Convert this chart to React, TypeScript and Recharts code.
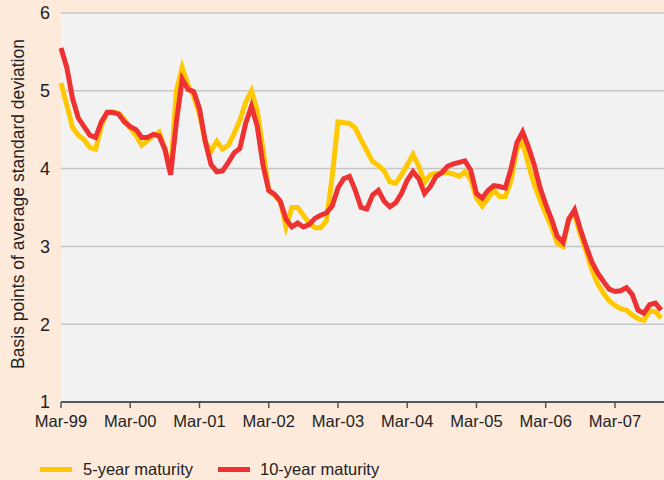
import React from 'react';
import { LineChart, Line, XAxis, YAxis, CartesianGrid } from 'recharts';

// months since Mar-99, one point per month
const fiveYear = [
  5.1, 4.82, 4.53, 4.43, 4.37, 4.27, 4.25, 4.55, 4.73, 4.73, 4.71, 4.63,
  4.52, 4.43, 4.3, 4.36, 4.42, 4.47, 4.26, 3.96, 5.0, 5.3, 5.08, 4.93,
  4.7, 4.35, 4.22, 4.35, 4.25, 4.3, 4.45, 4.62, 4.85, 5.0, 4.75, 4.25,
  3.72, 3.66, 3.58, 3.25, 3.5, 3.5, 3.4, 3.3, 3.24, 3.24, 3.33, 3.9,
  4.6, 4.59, 4.58, 4.52, 4.37, 4.23, 4.09, 4.04, 3.97, 3.83, 3.81, 3.92,
  4.05, 4.18, 4.03, 3.82, 3.92, 3.94, 3.94, 3.95, 3.93, 3.9, 3.96, 3.86,
  3.62, 3.52, 3.62, 3.72, 3.64, 3.64, 3.85, 4.25, 4.35, 4.05, 3.8, 3.6,
  3.42, 3.25, 3.04, 3.0, 3.36, 3.42, 3.15, 2.94, 2.7, 2.52, 2.4, 2.3,
  2.24, 2.2, 2.18, 2.12, 2.07, 2.05, 2.17, 2.16, 2.08,
];

const tenYear = [
  5.55, 5.3, 4.9, 4.65, 4.54, 4.43, 4.4, 4.6, 4.72, 4.72, 4.7, 4.6,
  4.54, 4.5, 4.4, 4.4, 4.44, 4.42, 4.25, 3.92, 4.6, 5.15, 5.02, 4.99,
  4.77, 4.35, 4.05, 3.96, 3.97, 4.08, 4.2, 4.26, 4.58, 4.8, 4.55, 4.05,
  3.72, 3.67, 3.58, 3.35, 3.25, 3.3, 3.25, 3.28, 3.36, 3.4, 3.43, 3.52,
  3.75, 3.87, 3.9, 3.72, 3.5, 3.48, 3.66, 3.72, 3.58, 3.51, 3.56, 3.68,
  3.85, 3.96, 3.87, 3.68, 3.77, 3.9, 3.95, 4.03, 4.06, 4.08, 4.1, 3.98,
  3.68, 3.62, 3.72, 3.78, 3.77, 3.75, 4.0, 4.33, 4.47, 4.28, 4.05, 3.76,
  3.54, 3.35, 3.13, 3.05, 3.35, 3.47, 3.22, 3.0, 2.8, 2.66, 2.55, 2.45,
  2.42, 2.43, 2.47, 2.38, 2.18, 2.14, 2.25, 2.27, 2.18,
];

const tickLabels = [
  'Mar-99', 'Mar-00', 'Mar-01', 'Mar-02', 'Mar-03',
  'Mar-04', 'Mar-05', 'Mar-06', 'Mar-07',
];
const yTicks = [1, 2, 3, 4, 5, 6];

const data = fiveYear.map((v, i) => ({ m: i, five: v, ten: tenYear[i] }));
const xTicks = tickLabels.map((_, i) => i * 12);

const FONT = '"Liberation Sans", Arial, sans-serif';
const YELLOW = '#ffc800';
const RED = '#ee3234';

export default function App() {
  return (
    <div
      style={{
        position: 'fixed',
        left: 0,
        top: 0,
        width: 664,
        height: 480,
        background: '#fdeadb',
        fontFamily: FONT,
        overflow: 'hidden',
      }}
    >
      <LineChart
        width={664}
        height={480}
        data={data}
        margin={{ top: 13, right: 0, bottom: 48, left: 0 }}
      >
        <CartesianGrid
          vertical={false}
          fill="#f2f2f2"
          stroke="#c6c6c6"
          strokeWidth={1.5}
        />
        <XAxis
          dataKey="m"
          type="number"
          domain={[0, 104.5]}
          ticks={xTicks}
          tickFormatter={(v) => tickLabels[v / 12]}
          height={30}
          axisLine={{ stroke: '#555', strokeWidth: 2 }}
          tickLine={{ stroke: '#555', strokeWidth: 1.5 }}
          tickSize={6}
          tickMargin={7}
          tick={{ fill: '#222', fontSize: 16.5, fontFamily: FONT }}
          interval={0}
        />
        <YAxis
          domain={[1, 6]}
          ticks={yTicks}
          width={61}
          axisLine={false}
          tickLine={false}
          tickSize={0}
          tickMargin={11}
          tick={{ fill: '#222', fontSize: 18, fontFamily: FONT }}
          label={{
            content: () => (
              <text
                x={24}
                y={204}
                transform="rotate(-90 24 204)"
                textAnchor="middle"
                fontSize={17.5}
                fontFamily={FONT}
                fill="#222"
              >
                Basis points of average standard deviation
              </text>
            ),
          }}
        />
        <Line
          dataKey="five"
          stroke={YELLOW}
          strokeWidth={5}
          dot={false}
          isAnimationActive={false}
        />
        <Line
          dataKey="ten"
          stroke={RED}
          strokeWidth={5}
          dot={false}
          isAnimationActive={false}
        />
      </LineChart>
      <div
        style={{
          position: 'absolute',
          top: 460,
          left: 40,
          display: 'flex',
          alignItems: 'center',
          fontSize: 16.5,
          color: '#222',
          whiteSpace: 'nowrap',
        }}
      >
        <span style={{ display: 'inline-block', width: 32, height: 5, background: YELLOW }} />
        <span style={{ marginLeft: 11, width: 135 }}>5-year maturity</span>
        <span style={{ display: 'inline-block', width: 32, height: 5, background: RED }} />
        <span style={{ marginLeft: 10 }}>10-year maturity</span>
      </div>
    </div>
  );
}
